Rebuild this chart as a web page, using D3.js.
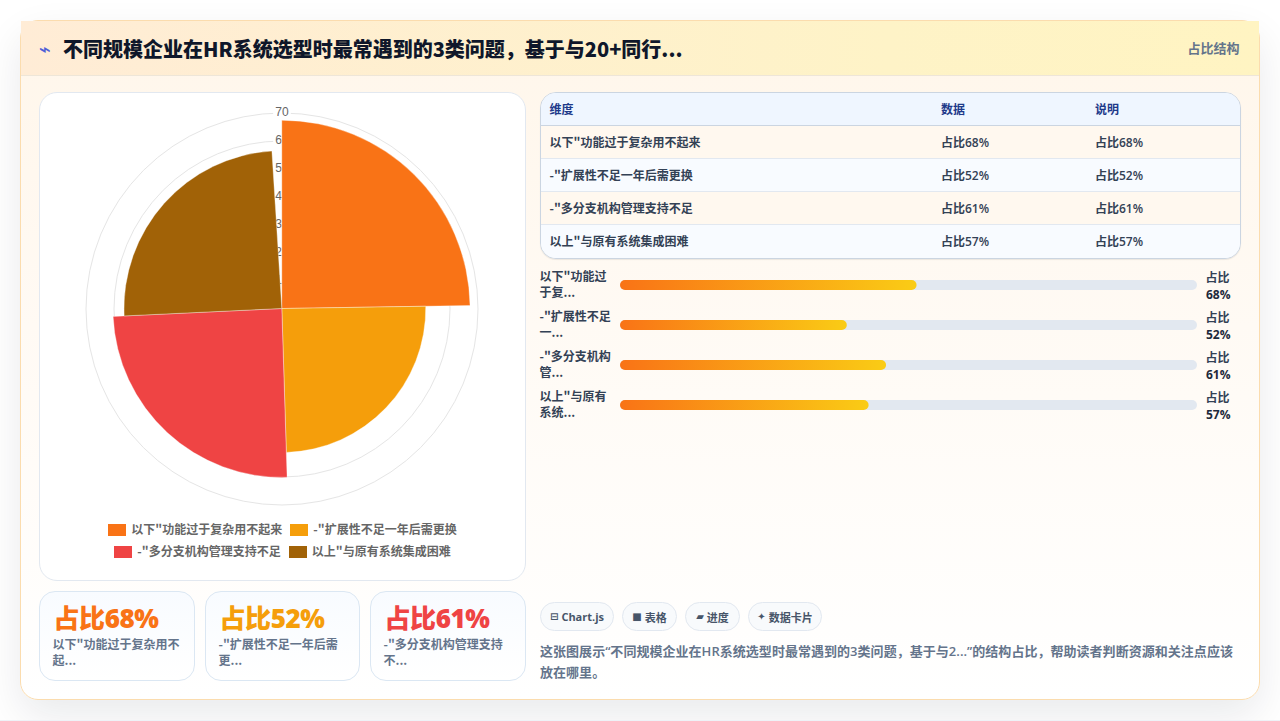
<!DOCTYPE html>
<html lang="zh-CN">
<head>
<meta charset="utf-8">
<title>HR系统选型问题占比</title>
<script src="https://cdn.jsdelivr.net/npm/d3@7/dist/d3.min.js"></script>
<style>
  html, body { margin: 0; padding: 0; background: #fff; }
  body { width: 1280px; height: 721px; overflow: hidden; position: relative;
         font-family: "Noto Sans CJK SC", sans-serif; }
  .box { position: absolute; box-sizing: border-box; }
  .txt { position: absolute; white-space: pre; line-height: 1; }
  .latin { font-family: "Open Sans", "Noto Sans CJK SC", sans-serif; }
</style>
</head>
<body>
<div id="root"></div>
<script>
// Chart content
const titleText = '不同规模企业在HR系统选型时最常遇到的3类问题，基于与20+同行...';
const badgeText = '占比结构';
const categories = ['以下"功能过于复杂用不起来', '-"扩展性不足一年后需更换', '-"多分支机构管理支持不足', '以上"与原有系统集成困难'];
const values = [68, 52, 61, 57];
const sliceColors = ['#f97316', '#f59e0b', '#ef4444', '#a16207'];
const radialTicks = [10, 20, 30, 40, 50, 60, 70];
const tableHeaders = ['维度', '数据', '说明'];
const barLabels = ['以下"功能过\n于复...', '-"扩展性不足\n一...', '-"多分支机构\n管...', '以上"与原有\n系统...'];
const kpiLabels = ['以下"功能过于复杂用不\n起...', '-"扩展性不足一年后需\n更...', '-"多分支机构管理支持\n不...'];
const chipIcons = ['⊟', '■', '▰', '✦'];
const chipLabels = ['Chart.js', '表格', '进度', '数据卡片'];
const noteLines = ['这张图展示“不同规模企业在HR系统选型时最常遇到的3类问题，基于与2...”的结构占比，帮助读者判断资源和关注点应该', '放在哪里。'];
const pct = v => `占比${v}%`;

const root = d3.select('#root');
const box = (parent, x, y, w, h, css = {}) => {
  const s = parent.append('div').attr('class', 'box')
    .style('left', x + 'px').style('top', y + 'px').style('width', w + 'px').style('height', h + 'px');
  Object.entries(css).forEach(([k, v]) => s.style(k, v));
  return s;
};
const label = (parent, x, cy, text, size, weight, color, extra = {}) => {
  const s = parent.append('div').attr('class', 'txt').text(text)
    .style('left', x + 'px').style('top', (cy - size / 2) + 'px')
    .style('font-size', size + 'px').style('font-weight', weight).style('color', color);
  Object.entries(extra).forEach(([k, v]) => s.style(k, v));
  return s;
};
// Figures and mixed-script sentences use the Latin face first
const latinLabel = (...args) => label(...args).attr('class', 'txt latin');

// Page strip and main card
box(root, 0, 720, 1280, 1, { background: '#eef2f7' });
const clip = box(root, 0, 0, 1280, 720, { overflow: 'hidden' });
box(clip, 20, 20, 1240, 680, {
  background: 'linear-gradient(180deg,#fff6ea 0%,#fffaf4 45%,#ffffff 100%)',
  border: '1px solid #fbdcae', 'border-radius': '18px',
  'box-shadow': '0 16px 40px rgba(15,23,42,.09)'
});

// Header band
box(root, 21, 21, 1238, 55, {
  background: 'linear-gradient(90deg,#ffecd6,#fef3c7 70%,#fff4c2)',
  'border-bottom': '1px solid #eee6d8'
});
box(root, 60, 20, 1160, 1, { background: '#fbdcae' });
label(root, 39, 49, '⌁', 20, 700, '#4f5fd6', { 'font-family': '"DejaVu Sans"' });
label(root, 63, 49, titleText, 20, 800, '#0f172a');
label(root, 1187.5, 47, badgeText, 13, 700, '#64748b');

// Polar area card
box(root, 39, 92, 487, 489, {
  background: '#fff', border: '1px solid #e2e8f0', 'border-radius': '18px'
});
const svg = root.append('svg').attr('width', 487).attr('height', 420)
  .style('position', 'absolute').style('left', '39px').style('top', '92px');
const g = svg.append('g').attr('transform', 'translate(243,217)');
const r = d3.scaleLinear().domain([0, 70]).range([0, 196]);
const sliceR = d3.scaleLinear().domain([0, 70]).range([0, 193.8]);

g.selectAll('circle.ring').data(radialTicks).join('circle').attr('class', 'ring')
  .attr('r', d => r(d)).attr('fill', 'none').attr('stroke', '#e5e5e5').attr('stroke-width', 1);

const tickGroup = g.selectAll('g.tick').data(radialTicks).join('g').attr('class', 'tick')
  .attr('transform', d => `translate(0,${-r(d)})`);
tickGroup.append('rect').attr('x', d => -d3.format('d')(d).length * 3.4 - 2).attr('y', -7.5)
  .attr('width', d => d3.format('d')(d).length * 6.8 + 4).attr('height', 15).attr('fill', '#fff');
tickGroup.append('text').text(d3.format('d')).attr('text-anchor', 'middle').attr('dy', '0.28em')
  .attr('fill', '#666').attr('font-size', 12).attr('font-family', 'Arial, "Liberation Sans", sans-serif');

const sweep = 89.1 * Math.PI / 180;
const arc = d3.arc().innerRadius(0).outerRadius(d => sliceR(d.value))
  .startAngle(d => d.i * sweep).endAngle(d => (d.i + 1) * sweep);
g.append('g').attr('transform', 'translate(-0.2,-0.5)')
  .selectAll('path.slice').data(values.map((value, i) => ({ value, i }))).join('path').attr('class', 'slice')
  .attr('d', arc).attr('fill', (d, i) => sliceColors[i]).attr('stroke', '#fff').attr('stroke-opacity', 0.7).attr('stroke-width', 0.5);

// Legend, wrapped over two centred rows
const legendRows = [[0, 1], [2, 3]];
legendRows.forEach((row, ri) => {
  const line = box(root, 39, 522 + ri * 22, 487, 16, {
    display: 'flex', 'justify-content': 'center', 'align-items': 'center', gap: '8px'
  });
  line.selectAll('div.item').data(row).join('div').attr('class', 'item')
    .style('display', 'flex').style('align-items', 'center').style('gap', '5px')
    .each(function (i) {
      const it = d3.select(this);
      it.append('span').style('display', 'block').style('width', '18px').style('height', '12px').style('background', sliceColors[i]);
      it.append('span').text(categories[i]).style('font-size', '12px').style('color', '#666').style('line-height', '16px')
        .style('font-weight', 600).style('position', 'relative').style('top', '-1px');
    });
});

// KPI cards
const kpiX = [39, 205, 370];
const kpiW = [156, 155, 156];
kpiLabels.forEach((t, i) => {
  box(root, kpiX[i], 591, kpiW[i], 90, {
    background: 'linear-gradient(180deg,#f8fbff,#ffffff)', border: '1px solid #dbe7f3', 'border-radius': '16px'
  });
  latinLabel(root, kpiX[i] + 14.5, 618, pct(values[i]), 26, 800, sliceColors[i], { 'letter-spacing': '-0.4px' });
  t.split('\n').forEach((ln, k) => label(root, kpiX[i] + 13.5, 644 + k * 16, ln, 12, 600, '#64748b'));
});

// Data table
const tableX = [549.5, 941, 1095];
const table = box(root, 540, 92, 701, 167, {
  border: '1px solid #cbd5e1', 'border-radius': '16px', overflow: 'hidden', background: '#fff',
  'box-shadow': '0 1px 1px rgba(15,23,42,.08)'
});
box(table, 0, 0, 701, 33, { background: '#eff6ff', 'border-bottom': '1px solid #cbd5e1' });
values.forEach((v, i) => {
  box(table, 0, 33 + i * 33, 701, 33, {
    background: i % 2 ? '#f8fbff' : '#fff8ef',
    'border-bottom': i < 3 ? '1px solid #e2e8f0' : 'none'
  });
});
tableHeaders.forEach((h, j) => label(root, tableX[j], 109, h, 12, 700, '#1e3a8a'));
categories.forEach((c, i) => {
  label(root, tableX[0], 142 + i * 33, c, 12, 600, '#334155');
  latinLabel(root, tableX[1], 143 + i * 33, pct(values[i]), 12, 600, '#334155');
  latinLabel(root, tableX[2], 143 + i * 33, pct(values[i]), 12, 600, '#334155');
});

// Progress bars
const barX = d3.scaleLinear().domain([0, 132.3]).range([0, 577]);
const barSvg = root.append('svg').attr('width', 577).attr('height', 140)
  .style('position', 'absolute').style('left', '620px').style('top', '275px');
const barDefs = barSvg.append('defs');
values.forEach((v, i) => {
  const grad = barDefs.append('linearGradient').attr('id', `barFill${i}`);
  grad.append('stop').attr('offset', '0%').attr('stop-color', '#f97316');
  grad.append('stop').attr('offset', '100%').attr('stop-color', '#facc15');
});
barSvg.selectAll('rect.track').data(values).join('rect').attr('class', 'track')
  .attr('x', 0).attr('y', (d, i) => 5 + i * 40).attr('width', barX.range()[1]).attr('height', 10)
  .attr('rx', 5).attr('fill', '#e2e8f0');
barSvg.selectAll('rect.fill').data(values).join('rect').attr('class', 'fill')
  .attr('x', 0).attr('y', (d, i) => 5 + i * 40).attr('width', d => barX(d)).attr('height', 10)
  .attr('rx', 5).attr('fill', (d, i) => `url(#barFill${i})`);
barLabels.forEach((t, i) => {
  t.split('\n').forEach((ln, k) => label(root, 539.5, 276 + i * 40 + k * 16, ln, 12, 600, '#334155'));
  latinLabel(root, 1205.5, 278 + i * 40, '占比', 12, 600, '#334155');
  latinLabel(root, 1206, 294.5 + i * 40, values[i] + '%', 12, 700, '#1e293b');
});

// Chips and closing note
const chipX = [540, 622, 685, 748];
const chipW = [74, 55, 55, 74];
chipLabels.forEach((t, i) => {
  const chip = box(root, chipX[i], 602, chipW[i], 29, {
    background: '#f8fafc', border: '1px solid #e2e8f0', 'border-radius': '15px',
    display: 'flex', 'align-items': 'center', 'justify-content': 'center', gap: '3px',
    'font-size': '11px', 'font-weight': 700, color: '#475569', 'white-space': 'pre',
    'font-family': '"Open Sans", "Noto Sans CJK SC", sans-serif'
  });
  chip.append('span').text(chipIcons[i]).style('font-family', '"DejaVu Sans"').style('font-size', '10px');
  chip.append('span').text(t);
});
noteLines.forEach((t, i) => latinLabel(root, 540, 651 + i * 21, t, 13, 600, '#64748b', { 'letter-spacing': '0.035px' }));
</script>
</body>
</html>
